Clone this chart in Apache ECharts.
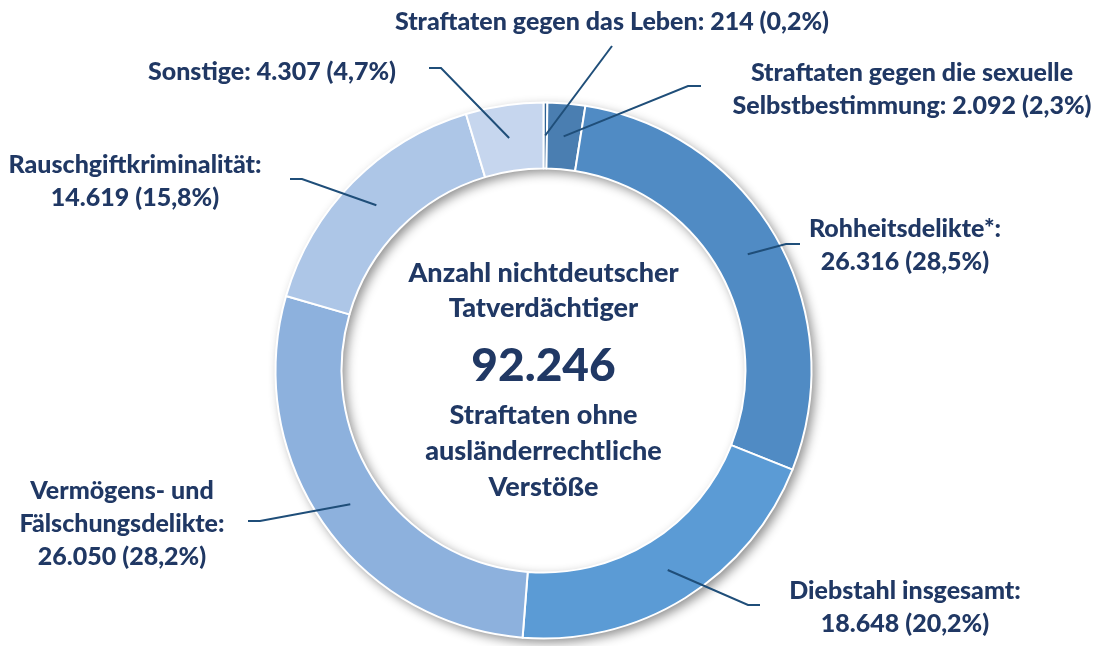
<!DOCTYPE html>
<html>
<head>
<meta charset="utf-8">
<script src="https://cdn.jsdelivr.net/npm/echarts@6/dist/echarts.min.js"></script>
<style>
  html, body { margin: 0; padding: 0; background: #fff; }
  #main { width: 1096px; height: 646px; }
</style>
</head>
<body>
<div id="main"></div>
<script>
  // Deliktsgruppen, im Uhrzeigersinn ab 12 Uhr
  var names = [
    'Straftaten gegen das Leben',
    'Straftaten gegen die sexuelle\nSelbstbestimmung',
    'Rohheitsdelikte*',
    'Diebstahl insgesamt',
    'Vermögens- und\nFälschungsdelikte',
    'Rauschgiftkriminalität',
    'Sonstige'
  ];
  var values = [214, 2092, 26316, 18648, 26050, 14619, 4307];
  var colors = ['#2f6396', '#4a7eb1', '#508bc4', '#5b9bd5', '#8db1dd', '#adc6e7', '#c6d6ee'];
  var sep = [' ', ' ', '\n', '\n', '\n', '\n', ' '];

  // Lage der Beschriftungen (Textmitte) und Knickpunkt der Führungslinie
  var labelPos = [[612, 22], [912, 89], [905, 245], [905, 607], [122, 524], [135, 181], [272, 72]];
  var elbow = [[612, 46], [688, 86], [786, 244], [748, 605], [260, 521], [302, 179], [441, 68]];
  var lineEnd = [[612, 46], [701, 86], [800, 244], [760, 605], [248, 521], [290, 179], [429, 68]];

  var cx = 543.5, cy = 370.5, rIn = 202, rOut = 268;
  var total = values.reduce(function (a, b) { return a + b; }, 0);

  function fmtNum(n) {
    return String(n).replace(/\B(?=(\d{3})+(?!\d))/g, '.');
  }

  // Startpunkt der Linie: Mitte des Rings auf dem Winkel der Segmentmitte
  var starts = [];
  var acc = 0;
  values.forEach(function (v) {
    var a = (acc + v / 2) / total * 2 * Math.PI;
    var r = (rIn + rOut) / 2;
    starts.push([cx + r * Math.sin(a), cy - r * Math.cos(a)]);
    acc += v;
  });

  var myChart = echarts.init(document.getElementById('main'));
  window.onresize = myChart.resize;

  var textColor = '#203864';
  var font = 'Lato, "Open Sans", sans-serif';

  var pieData = names.map(function (n, i) {
    return { name: n, value: values[i], itemStyle: { color: colors[i] } };
  });

  myChart.setOption({
    animation: false,
    graphic: [
      {
        type: 'text', x: cx, y: 291, z: 10,
        style: { text: 'Anzahl nichtdeutscher\nTatverdächtiger', fill: textColor, font: '900 27px ' + font, align: 'center', verticalAlign: 'middle', lineHeight: 35 }
      },
      {
        type: 'text', x: cx, y: 366, z: 10,
        style: { text: fmtNum(total), fill: textColor, font: '900 46px ' + font, align: 'center', verticalAlign: 'middle' }
      },
      {
        type: 'text', x: cx, y: 451, z: 10,
        style: { text: 'Straftaten ohne\nausländerrechtliche\nVerstöße', fill: textColor, font: '900 27px ' + font, align: 'center', verticalAlign: 'middle', lineHeight: 36 }
      }
    ],
    series: [
      {
        // Schatten unter dem Ring
        type: 'pie',
        silent: true,
        center: [cx, cy],
        radius: [rIn, rOut],
        z: 1,
        label: { show: false },
        labelLine: { show: false },
        itemStyle: {
          color: '#ffffff',
          shadowColor: 'rgba(0,0,0,0.45)',
          shadowBlur: 11,
          shadowOffsetX: 4,
          shadowOffsetY: 4
        },
        data: [{ value: 1 }]
      },
      {
        type: 'pie',
        silent: true,
        center: [cx, cy],
        radius: [rIn, rOut],
        startAngle: 90,
        z: 2,
        itemStyle: { borderColor: '#ffffff', borderWidth: 2 },
        label: { show: false },
        labelLine: { show: false },
        data: pieData
      },
      {
        // gleiche Segmente, unsichtbar, nur für Beschriftung und Linien oben drauf
        type: 'pie',
        silent: true,
        center: [cx, cy],
        radius: [rIn, rOut],
        startAngle: 90,
        z: 3,
        itemStyle: { color: 'rgba(0,0,0,0)', borderWidth: 0 },
        label: {
          show: true,
          color: textColor,
          fontFamily: font,
          fontWeight: 900,
          fontSize: 25,
          lineHeight: 33,
          align: 'center',
          overflow: 'none',
          width: 460,
          formatter: function (p) {
            var pct = (p.value / total * 100).toFixed(1).replace('.', ',');
            return p.name + ':' + sep[p.dataIndex] + fmtNum(p.value) + ' (' + pct + '%)';
          }
        },
        labelLine: { show: true, lineStyle: { color: '#1f4e79', width: 2 } },
        labelLayout: function (params) {
          var i = params.dataIndex;
          return {
            x: labelPos[i][0],
            y: labelPos[i][1],
            align: 'center',
            verticalAlign: 'middle',
            labelLinePoints: [starts[i], elbow[i], lineEnd[i]]
          };
        },
        data: names.map(function (n, i) {
          return { name: n, value: values[i] };
        })
      }
    ]
  });
</script>
</body>
</html>
